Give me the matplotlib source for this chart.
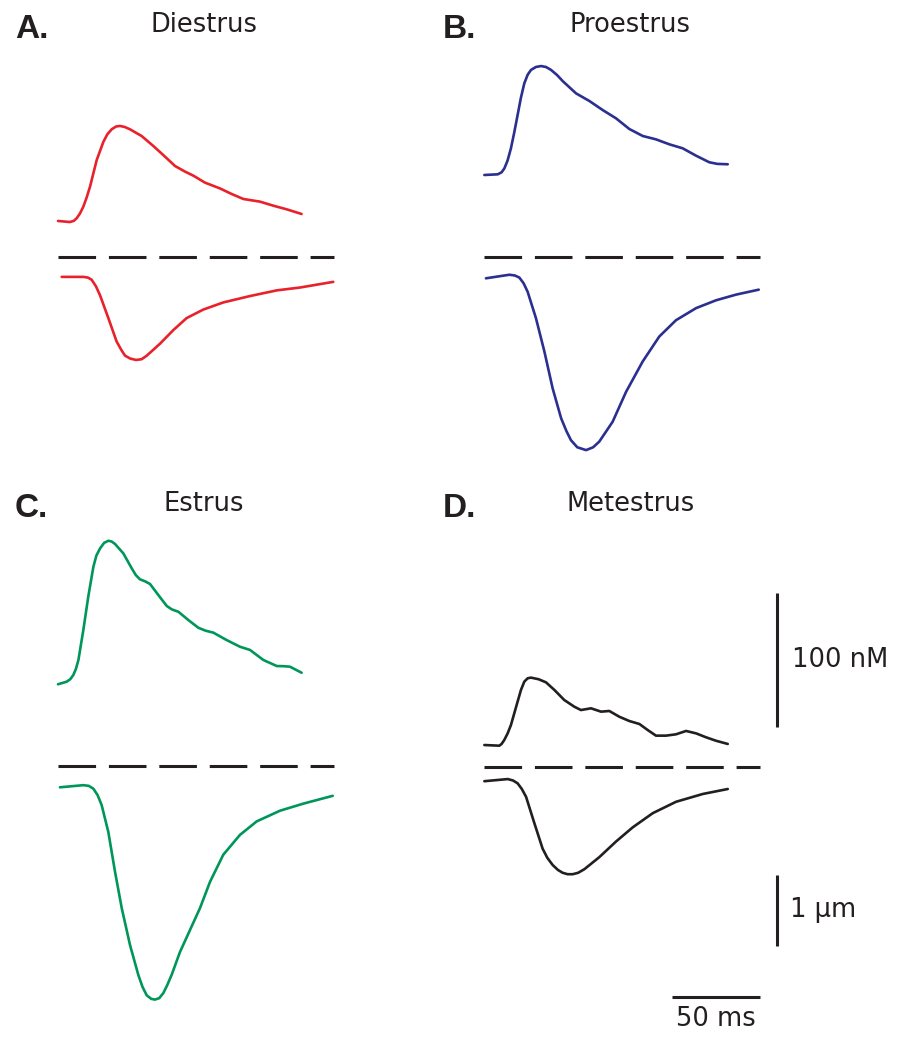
import matplotlib
matplotlib.use('Agg')
import matplotlib.pyplot as plt

# traces: time (ms), [Ca2+] (nM) and sarcomere shortening (um)
# zero of both y units is the dashed line of each panel
stages = ['Diestrus', 'Proestrus', 'Estrus', 'Metestrus']
letters = ['A.', 'B.', 'C.', 'D.']
colors = ['#e8212b', '#2b2f90', '#00965a', '#231f20']

t_ca_A = [0, 6.8, 9.0, 10.6, 12.5, 14.4, 16.3, 18.2, 20.1, 22.0, 25.8, 28.0, 30.5, 33.0, 35.2, 38.0, 40.9, 47.5, 54.2, 60.8, 66.5, 72.2, 76.9, 83.5, 92.0, 98.7, 105.3, 114.8, 122.3, 129.9, 138.4]
ca_A = [26.9, 26.1, 27.0, 28.9, 32.5, 37.6, 44.5, 52.5, 62.5, 72.4, 86.0, 91.5, 95.3, 97.4, 97.8, 97.0, 95.3, 90.3, 82.8, 74.9, 67.9, 63.7, 60.7, 55.5, 51.2, 47.0, 43.3, 41.3, 38.3, 35.6, 32.1]
t_len_A = [2.1, 14.4, 17.0, 19.1, 21.5, 23.9, 28.6, 33.3, 36.0, 38.1, 41.0, 44.3, 47.5, 50.4, 54.0, 58.0, 65.5, 73.1, 82.6, 93.9, 109.1, 124.3, 137.5, 156.4]
len_A = [-0.28, -0.28, -0.29, -0.32, -0.41, -0.54, -0.86, -1.19, -1.31, -1.39, -1.43, -1.45, -1.44, -1.39, -1.31, -1.22, -1.03, -0.86, -0.74, -0.64, -0.55, -0.47, -0.43, -0.35]

t_ca_B = [0.2, 7.8, 10.0, 11.6, 13.4, 15.3, 17.2, 19.1, 21.0, 22.9, 24.8, 26.7, 29.5, 32.4, 35.2, 38.1, 41.5, 44.7, 52.3, 59.9, 67.4, 75.0, 82.6, 90.2, 97.7, 105.3, 112.9, 120.5, 128.0, 132.5, 138.5]
ca_B = [61.2, 61.7, 63.2, 66.2, 72.0, 81.1, 93.0, 106.0, 119.0, 129.6, 136.0, 139.6, 141.8, 142.5, 141.8, 139.6, 135.8, 131.3, 122.1, 116.4, 109.7, 103.5, 95.5, 90.3, 87.8, 84.1, 81.1, 75.6, 70.7, 69.5, 69.2]
t_len_B = [1.1, 14.4, 17.5, 20.1, 22.5, 24.8, 29.5, 34.3, 39.0, 43.8, 46.8, 49.4, 53.0, 58.0, 62.0, 65.5, 73.1, 80.7, 90.2, 99.6, 109.1, 120.5, 131.8, 143.2, 156.1]
len_B = [-0.30, -0.25, -0.26, -0.29, -0.37, -0.49, -0.86, -1.33, -1.85, -2.27, -2.45, -2.58, -2.68, -2.72, -2.68, -2.60, -2.32, -1.90, -1.47, -1.12, -0.89, -0.72, -0.61, -0.53, -0.46]

t_ca_C = [0, 4.9, 7.0, 8.7, 10.2, 11.6, 14.4, 17.2, 20.1, 21.8, 23.9, 26.2, 28.6, 30.5, 32.4, 37.1, 41.9, 44.2, 46.6, 49.5, 52.3, 57.0, 61.8, 64.8, 68.4, 74.0, 79.7, 83.8, 88.3, 95.8, 103.4, 109.1, 116.7, 124.3, 128.0, 131.8, 138.4]
ca_C = [61.0, 62.9, 64.8, 67.9, 72.5, 79.1, 101.5, 126.4, 148.7, 157.0, 162.4, 166.5, 168.1, 167.5, 165.7, 158.7, 147.5, 142.5, 139.3, 137.8, 135.8, 127.6, 119.4, 116.8, 115.1, 109.0, 103.2, 101.0, 99.5, 94.0, 89.0, 86.6, 79.1, 74.6, 74.5, 74.1, 69.6]
t_len_C = [1.1, 14.4, 17.5, 20.1, 22.5, 24.8, 28.6, 32.4, 36.2, 40.9, 45.6, 48.0, 50.4, 53.0, 55.1, 57.5, 59.8, 62.0, 64.6, 69.3, 75.0, 80.7, 86.4, 93.9, 103.4, 112.9, 126.1, 139.4, 156.1]
len_C = [-0.30, -0.27, -0.28, -0.32, -0.41, -0.55, -0.93, -1.49, -2.00, -2.52, -2.94, -3.11, -3.23, -3.28, -3.29, -3.27, -3.20, -3.09, -2.94, -2.62, -2.31, -2.00, -1.63, -1.25, -0.97, -0.78, -0.63, -0.53, -0.42]

t_ca_D = [0.2, 8.7, 10.0, 11.5, 13.4, 15.3, 19.1, 21.0, 22.9, 24.8, 26.7, 31.0, 35.2, 40.0, 45.6, 51.3, 55.1, 60.8, 66.5, 71.2, 76.9, 82.6, 88.3, 93.0, 97.7, 103.4, 109.1, 114.8, 120.5, 126.1, 131.8, 138.5]
ca_D = [16.4, 15.9, 17.2, 20.1, 25.0, 31.3, 48.8, 57.5, 63.7, 66.2, 66.7, 65.5, 63.2, 57.5, 50.0, 45.0, 42.5, 43.8, 41.3, 41.8, 37.5, 34.3, 32.1, 27.6, 23.4, 23.4, 24.4, 26.9, 25.1, 22.2, 19.6, 17.2]
t_len_D = [0.2, 13.5, 16.5, 19.1, 21.5, 23.9, 28.6, 33.3, 36.0, 39.0, 42.0, 44.7, 47.5, 50.4, 53.5, 57.0, 65.5, 75.0, 84.5, 95.9, 109.1, 124.3, 138.5]
len_D = [-0.20, -0.17, -0.19, -0.23, -0.31, -0.42, -0.79, -1.15, -1.28, -1.38, -1.45, -1.49, -1.51, -1.51, -1.49, -1.44, -1.27, -1.05, -0.85, -0.65, -0.49, -0.38, -0.31]

dash_ms = 157
bar_nM = 100
bar_um = 1
bar_ms = 50

ca_t = [t_ca_A, t_ca_B, t_ca_C, t_ca_D]
ca = [ca_A, ca_B, ca_C, ca_D]
len_t = [t_len_A, t_len_B, t_len_C, t_len_D]
lens = [len_A, len_B, len_C, len_D]

# layout in pixels
W, H = 900, 1040
px_ms, px_nM, px_um = 1.76, 1.34, 71.0
origins = [(58, 257), (484, 257), (58, 766), (484, 767)]   # (t=0, dashed line)
label_x = [15, 443, 15, 443]
title_x = [204, 630, 204, 631]
text_y = [32, 32, 511, 511]

fig = plt.figure(figsize=(W / 100, H / 100), dpi=100)
title_font = ['DejaVu Sans']

for i in range(4):
    x0, y0 = origins[i]
    left, right = x0 - 20, x0 + 300
    top, bottom = y0 - 240, y0 + 260
    ax = fig.add_axes([left / W, 1 - bottom / H, (right - left) / W, (bottom - top) / H])
    ax.set_xlim(-20 / px_ms, 300 / px_ms)
    ax.set_ylim(-260 / px_nM, 240 / px_nM)
    ax.axis('off')
    ax2 = ax.twinx()
    ax2.set_ylim(-260 / px_um, 240 / px_um)
    ax2.axis('off')

    ax.plot(ca_t[i], ca[i], color=colors[i], lw=1.9, solid_joinstyle='round', solid_capstyle='round')
    ax2.plot(len_t[i], lens[i], color=colors[i], lw=1.9, solid_joinstyle='round', solid_capstyle='round')
    ax.plot([0, dash_ms], [0, 0], color='#231f20', lw=2.2, dashes=(12.3, 4.2), dash_capstyle='butt')

    fig.text(label_x[i] / W, 1 - (text_y[i] + 6) / H, letters[i], fontsize=24, fontweight='bold',
             family='Liberation Sans', color='#231f20', ha='left', va='baseline')
    fig.text(title_x[i] / W, 1 - text_y[i] / H, stages[i], fontsize=18.5, family=title_font,
             color='#231f20', ha='center', va='baseline')

    if i == 3:
        xb = 166.5
        ax.plot([xb, xb], [30, 30 + bar_nM], color='#231f20', lw=2.2, clip_on=False, solid_capstyle='butt')
        ax.text(xb + 8.5, 30 + bar_nM / 2, '100 nM', fontsize=18.5, family=title_font, color='#231f20',
                ha='left', va='center')
        ax2.plot([xb, xb], [-1.52, -1.52 - bar_um], color='#231f20', lw=2.2, clip_on=False, solid_capstyle='butt')
        ax2.text(xb + 7.5, -1.52 - bar_um / 2, '1 µm', fontsize=18.5, family=title_font, color='#231f20',
                 ha='left', va='center')
        ax2.plot([dash_ms - bar_ms, dash_ms], [-3.24, -3.24], color='#231f20', lw=2.2, clip_on=False,
                 solid_capstyle='butt')
        ax2.text(dash_ms - bar_ms / 2, -3.37, '50 ms', fontsize=18.5, family=title_font, color='#231f20',
                 ha='center', va='top')

fig.savefig('out.png', dpi=100, facecolor='white')
